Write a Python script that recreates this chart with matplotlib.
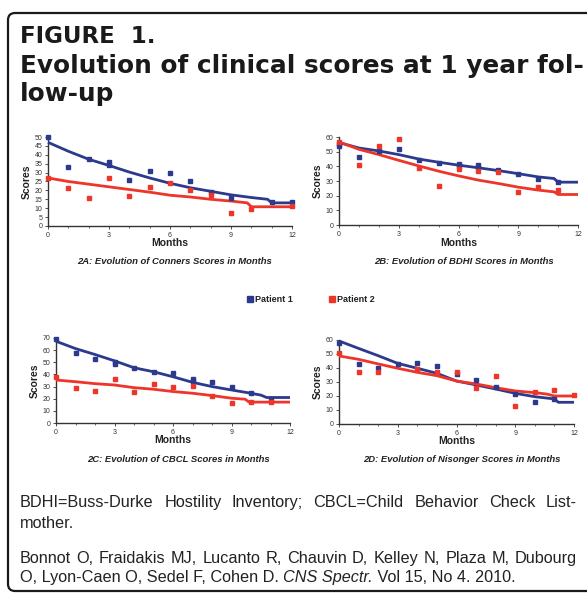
import matplotlib
matplotlib.use('Agg')
import matplotlib.pyplot as plt
from matplotlib.patches import FancyBboxPatch
from matplotlib.lines import Line2D

W, H = 587, 594
BLUE = '#2b3a8c'
RED = '#ee3529'
NARROW = ['Liberation Sans Narrow', 'Liberation Sans', 'DejaVu Sans']

# ---------------- data ----------------
# 2A Conners
conners_p1_m = [0, 1, 2, 3, 3, 4, 5, 6, 7, 8, 9, 11, 12]
conners_p1 = [50, 33, 37.5, 35.7, 34, 26, 31, 29.5, 25, 19.3, 16, 13.6, 13.5]
conners_p2_m = [0, 1, 2, 3, 4, 5, 6, 7, 8, 9, 10, 12]
conners_p2 = [27, 21.6, 16, 26.7, 17, 22, 24.4, 20.4, 17.6, 7.4, 9.7, 11]
conners_t1_m = [0, 1, 2, 3, 4, 5, 6, 7, 8, 9, 10, 10.8, 11, 12]
conners_t1 = [47, 42, 37.5, 34, 30.3, 27, 24, 21.5, 19.5, 17.5, 16, 15, 13, 13]
conners_t2_m = [0, 1, 2, 3, 4, 5, 6, 7, 8, 9, 9.8, 10, 12]
conners_t2 = [27, 25, 23.5, 22, 20.5, 19, 17.3, 16.3, 15, 14, 13, 10.8, 10.8]

# 2B BDHI
bdhi_p1_m = [0, 0, 1, 2, 3, 4, 5, 6, 6, 7, 7, 8, 9, 10, 11]
bdhi_p1 = [54, 55, 46.4, 50.5, 52, 44.6, 42.6, 41.4, 40, 40.7, 39.4, 37.4, 35, 31.7, 29]
bdhi_p2_m = [0, 1, 2, 3, 4, 5, 6, 7, 8, 9, 10, 11]
bdhi_p2 = [56.6, 40.8, 53.9, 58.9, 39.2, 26.7, 38.5, 36.7, 35.8, 22.6, 25.6, 24]
bdhi_t1_m = [0, 0.2, 1, 2, 3, 4, 5, 6, 7, 8, 9, 10, 10.8, 11, 12]
bdhi_t1 = [55, 55.5, 52.5, 50.5, 48, 45, 42.8, 40.8, 39, 37.1, 35, 32.8, 31.7, 29.2, 29.2]
bdhi_t2_m = [0, 1, 2, 3, 4, 5, 6, 7, 8, 9, 10, 10.8, 11, 12]
bdhi_t2 = [56.6, 51.6, 48, 44.1, 40.3, 36.7, 33.5, 30.6, 28.3, 25.8, 23.8, 22.6, 20.8, 20.8]

# 2C CBCL
cbcl_p1_m = [0, 1, 2, 3, 3, 4, 5, 6, 7, 7, 8, 9, 10, 11]
cbcl_p1 = [69.5, 58, 52.6, 49, 50.4, 45.5, 42.2, 41.4, 36.5, 35, 34, 30, 25, 20]
cbcl_p2_m = [0, 1, 2, 3, 4, 5, 6, 7, 8, 9, 10, 11]
cbcl_p2 = [38, 28.6, 26.7, 36.2, 25.9, 32.1, 30, 30.5, 22.6, 16.3, 16.9, 17.2]
cbcl_t1_m = [0, 1, 2, 3, 4, 5, 6, 7, 8, 9, 10, 10.5, 10.8, 12]
cbcl_t1 = [67.3, 61.3, 56.4, 51.2, 45.5, 42.2, 38.1, 33.5, 30, 27.2, 24.5, 23, 21, 21]
cbcl_t2_m = [0, 1, 2, 3, 4, 5, 6, 7, 8, 9, 9.7, 9.9, 12]
cbcl_t2 = [35.4, 34, 32.4, 31.3, 29.1, 27.8, 25.9, 24.5, 22.6, 20.4, 19.6, 17.2, 17.2]

# 2D Nisonger
nis_p1_m = [0, 1, 2, 3, 4, 5, 6, 7, 8, 9, 10, 11]
nis_p1 = [57.6, 42.6, 40.2, 42.6, 43.3, 41.7, 35.5, 31.4, 26.7, 21.2, 15.5, 17.9]
nis_p2_m = [0, 1, 2, 4, 5, 6, 7, 8, 9, 10, 11, 12]
nis_p2 = [50.5, 36.9, 37.4, 39, 36.9, 36.9, 25.5, 34.3, 12.6, 23.1, 24, 20.7]
nis_t1_m = [0, 1, 2, 3, 4, 5, 6, 7, 8, 9, 10, 11, 11.2, 12]
nis_t1 = [59.3, 54, 48.8, 43.3, 39.8, 36.2, 30.7, 27.9, 25, 21.9, 19.5, 17.9, 15.5, 15.5]
nis_t2_m = [0, 1, 2, 3, 4, 5, 6, 7, 8, 9, 10, 10.6, 11, 12]
nis_t2 = [48.6, 46.2, 42.9, 39.8, 36.9, 34.5, 30.7, 28.6, 25.95, 23.6, 22.4, 21.4, 20, 20]

x_ticks = [0, 3, 6, 9, 12]
captions = ['2A: Evolution of Conners Scores in Months',
            '2B: Evolution of BDHI Scores in Months',
            '2C: Evolution of CBCL Scores in Months',
            '2D: Evolution of Nisonger Scores in Months']
legend_labels = ['Patient 1', 'Patient 2']

# ---------------- figure ----------------
fig = plt.figure(figsize=(W / 100, H / 100), dpi=100)
fig.patch.set_facecolor('white')


def fx(px):
    return px / W


def fy(py):
    return 1 - py / H


# border
border = FancyBboxPatch((fx(8), fy(591)), fx(600) - fx(8), fy(13) - fy(591),
                        boxstyle='round,pad=0,rounding_size=0.012',
                        transform=fig.transFigure, fill=False,
                        edgecolor='#1a1a1a', linewidth=1.6)
fig.add_artist(border)

# title
TITLE_FONT = ['DejaVu Sans']
fig.text(fx(20), fy(43), 'FIGURE  1.', fontsize=16.5, fontweight='heavy',
         family=TITLE_FONT, color='#1a1a1a', va='baseline')
fig.text(fx(20), fy(73), 'Evolution of clinical scores at 1 year fol-', fontsize=17.85,
         fontweight='bold', family=TITLE_FONT, color='#1a1a1a', va='baseline')
fig.text(fx(20), fy(101), 'low-up', fontsize=17.85,
         fontweight='bold', family=TITLE_FONT, color='#1a1a1a', va='baseline')

# panels: (left, top, right, bottom) in pixels
panels = [
    dict(box=(48, 137, 292, 226), ymax=50, ystep=5,
         p1=(conners_p1_m, conners_p1), p2=(conners_p2_m, conners_p2),
         t1=(conners_t1_m, conners_t1), t2=(conners_t2_m, conners_t2),
         months_y=243, cap_y=262, score_x=27),
    dict(box=(339, 137, 578, 225), ymax=60, ystep=10,
         p1=(bdhi_p1_m, bdhi_p1), p2=(bdhi_p2_m, bdhi_p2),
         t1=(bdhi_t1_m, bdhi_t1), t2=(bdhi_t2_m, bdhi_t2),
         months_y=243, cap_y=262, score_x=318),
    dict(box=(56, 338, 290, 423), ymax=70, ystep=10,
         p1=(cbcl_p1_m, cbcl_p1), p2=(cbcl_p2_m, cbcl_p2),
         t1=(cbcl_t1_m, cbcl_t1), t2=(cbcl_t2_m, cbcl_t2),
         months_y=440, cap_y=459, score_x=35),
    dict(box=(339, 340, 574, 424), ymax=60, ystep=10,
         p1=(nis_p1_m, nis_p1), p2=(nis_p2_m, nis_p2),
         t1=(nis_t1_m, nis_t1), t2=(nis_t2_m, nis_t2),
         months_y=441, cap_y=459, score_x=318),
]

for cap, p in zip(captions, panels):
    l, t, r, b = p['box']
    ax = fig.add_axes([fx(l), fy(b), fx(r) - fx(l), fy(t) - fy(b)])
    ax.set_facecolor('none')
    ax.plot(*p['t1'], color=BLUE, lw=2.0, solid_capstyle='butt', zorder=3, clip_on=False)
    ax.plot(*p['t2'], color=RED, lw=2.0, solid_capstyle='butt', zorder=3, clip_on=False)
    ax.plot(*p['p1'], ls='none', marker='s', ms=3.0, color=BLUE, zorder=4, clip_on=False)
    ax.plot(*p['p2'], ls='none', marker='s', ms=3.0, color=RED, zorder=4, clip_on=False)
    ax.set_xlim(0, 12)
    ax.set_ylim(0, p['ymax'])
    ax.set_xticks(x_ticks)
    ax.set_xticks(range(13), minor=True)
    ax.set_yticks(range(0, p['ymax'] + 1, p['ystep']))
    for s in ['top', 'right']:
        ax.spines[s].set_visible(False)
    for s in ['left', 'bottom']:
        ax.spines[s].set_color('#333333')
        ax.spines[s].set_linewidth(1.0)
    ax.tick_params(axis='both', labelsize=5, colors='#333333', length=2.5, width=0.6, pad=1.5)
    ax.tick_params(axis='x', which='minor', length=1.5, width=0.5, colors='#333333')
    for lab in ax.get_xticklabels() + ax.get_yticklabels():
        lab.set_family(NARROW)
    cx = (l + r) / 2
    fig.text(fx(cx), fy(p['months_y']), 'Months', fontsize=7.5, fontweight='bold',
             family=NARROW, color='#222222', ha='center', va='center')
    fig.text(fx(cx + 5), fy(p['cap_y']), cap, fontsize=6.8, fontweight='bold', style='italic',
             family=NARROW, color='#222222', ha='center', va='center')
    fig.text(fx(p['score_x']), fy((t + b) / 2), 'Scores', fontsize=7.5, fontweight='bold',
             family=NARROW, color='#222222', ha='center', va='center', rotation=90)

# legend
handles = [Line2D([], [], ls='none', marker='s', ms=5, color=BLUE),
           Line2D([], [], ls='none', marker='s', ms=5, color=RED)]
leg = fig.legend(handles, legend_labels, loc='center', bbox_to_anchor=(fx(311), fy(300)),
                 ncol=2, frameon=False, handlelength=0.6, handletextpad=0.3,
                 columnspacing=4.0, prop=dict(family=NARROW, size=6.5, weight='bold'))
for txt in leg.get_texts():
    txt.set_color('#222222')

# footnote text with justification
renderer = fig.canvas.get_renderer()
BODY = ['Liberation Sans Narrow', 'Liberation Sans', 'DejaVu Sans']
BODY_SIZE = 11.7
LEFT, RIGHT = 20, 577


def text_width(s, **kw):
    t = fig.text(0, 0, s, fontsize=BODY_SIZE, family=BODY, **kw)
    w = t.get_window_extent(renderer).width
    t.remove()
    return w


def justified(words, y):
    widths = [text_width(wd) for wd in words]
    gap = (RIGHT - LEFT - sum(widths)) / (len(words) - 1)
    x = LEFT
    for wd, w in zip(words, widths):
        fig.text(fx(x), fy(y), wd, fontsize=BODY_SIZE, family=BODY, color='#222222',
                 va='baseline')
        x += w + gap


def segments(segs, y):
    x = LEFT
    for s, kw in segs:
        fig.text(fx(x), fy(y), s, fontsize=BODY_SIZE, family=BODY, color='#222222',
                 va='baseline', **kw)
        x += text_width(s, **kw)


justified('BDHI=Buss-Durke Hostility Inventory; CBCL=Child Behavior Check List-'.split(), 507)
segments([('mother.', {})], 528)
justified('Bonnot O, Fraidakis MJ, Lucanto R, Chauvin D, Kelley N, Plaza M, Dubourg'.split(), 563)
segments([('O, Lyon-Caen O, Sedel F, Cohen D. ', {}), ('CNS Spectr.', {'style': 'italic'}),
          (' Vol 15, No 4. 2010.', {})], 582)

fig.savefig('out.png', dpi=100, facecolor='white')
